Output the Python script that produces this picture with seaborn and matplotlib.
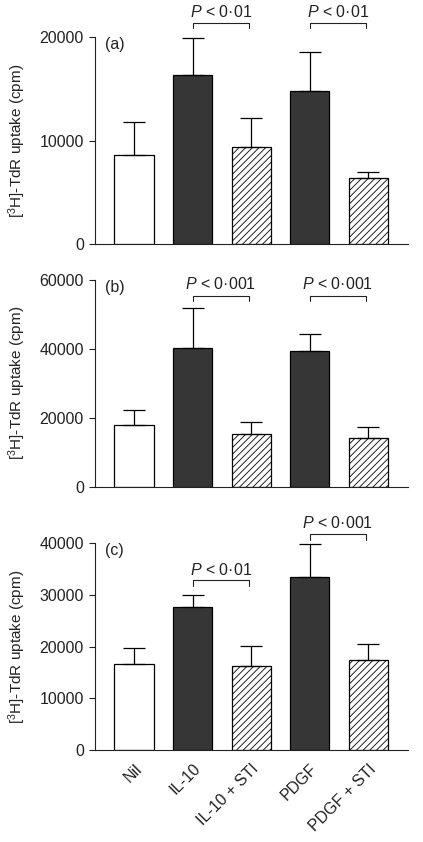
import matplotlib
matplotlib.use("Agg")
import matplotlib.pyplot as plt
import seaborn as sns
import numpy as np

sns.set_theme(style="ticks")
plt.rcParams["font.family"] = ["Liberation Sans", "DejaVu Sans"]
plt.rcParams["mathtext.fontset"] = "custom"
plt.rcParams["mathtext.rm"] = "Liberation Sans"
plt.rcParams["mathtext.it"] = "Liberation Sans:italic"
plt.rcParams["hatch.linewidth"] = 0.6

# ---- data ----
groups = ["Nil", "IL-10", "IL-10 + STI", "PDGF", "PDGF + STI"]

mean_a = [8600, 16300, 9370, 14780, 6350]
sem_a = [3220, 3650, 2780, 3800, 640]

mean_b = [17760, 40300, 15410, 39400, 14150]
sem_b = [4580, 11600, 3420, 4890, 3220]

mean_c = [16580, 27610, 16190, 33420, 17480]
sem_c = [3100, 2450, 4000, 6390, 3100]

ymax = [20000, 60000, 40000]
ystep = [10000, 20000, 10000]
panel_tags = ["(a)", "(b)", "(c)"]

# significance brackets: (x0, x1, bar y, tip y, text y, label)
sig_a = [(1, 1.97, 21380, 20840, 22440, "$P$ < 0·01"),
         (3, 3.96, 21380, 20840, 22440, "$P$ < 0·01")]
sig_b = [(1, 1.97, 55360, 53990, 58840, "$P$ < 0·001"),
         (3, 3.96, 55360, 53990, 58840, "$P$ < 0·001")]
sig_c = [(1, 1.97, 32840, 31740, 34830, "$P$ < 0·01"),
         (3, 3.96, 41810, 40720, 43880, "$P$ < 0·001")]

bar_colors = ["white", "#363636", "white", "#363636", "white"]
bar_hatch = ["", "", "/////", "", "/////"]

fig = plt.figure(figsize=(4.23, 8.42), dpi=100)
ax_rects = [
    [0.2246, 0.7102, 0.740, 0.2458],
    [0.2246, 0.4220, 0.740, 0.2455],
    [0.2246, 0.1093, 0.740, 0.2455],
]

panels = [(mean_a, sem_a, sig_a), (mean_b, sem_b, sig_b), (mean_c, sem_c, sig_c)]

for i, (means, sems, sigs) in enumerate(panels):
    ax = fig.add_axes(ax_rects[i])
    sns.barplot(x=groups, y=means, hue=groups, palette=bar_colors, legend=False,
                width=0.67, edgecolor="black", linewidth=0.9, ax=ax)
    for patch, h in zip(ax.patches, bar_hatch):
        patch.set_hatch(h)
    # only the upper half of the error bar is shown
    ax.errorbar(np.arange(len(groups)), means, yerr=[np.zeros(len(sems)), sems],
                fmt="none", ecolor="black", elinewidth=0.9, capsize=8, capthick=0.9)

    ax.set_xlim(-0.667, 4.68)
    ax.set_ylim(0, ymax[i])
    ax.set_yticks(np.arange(0, ymax[i] + 1, ystep[i]))
    ax.tick_params(axis="y", length=4, width=0.8, pad=4, labelsize=11.5, colors="#222222")
    ax.tick_params(axis="x", length=0)
    sns.despine(ax=ax)
    for s in ["left", "bottom"]:
        ax.spines[s].set_linewidth(0.8)
        ax.spines[s].set_color("#222222")

    ax.set_ylabel("[$\\mathregular{^3}$H]-TdR uptake (cpm)", fontsize=11, color="#222222")
    ax.yaxis.set_label_coords(-0.215, 0.5)
    ax.set_xlabel("")

    ax.text(0.032, 0.963, panel_tags[i], transform=ax.transAxes, ha="left", va="center",
            fontsize=11.5, color="#222222")

    for x0, x1, yb, yt, ytxt, lab in sigs:
        ax.plot([x0, x0, x1, x1], [yt, yb, yb, yt], color="#222222", lw=0.8, clip_on=False)
        ax.text((x0 + x1) / 2, ytxt, lab, ha="center", va="center", fontsize=11.5,
                color="#222222", clip_on=False)

    if i < 2:
        ax.set_xticklabels([])
    else:
        ax.set_xticks(range(len(groups)))
        ax.set_xticklabels(groups, rotation=45, ha="right", rotation_mode="anchor",
                           fontsize=11.5, color="#222222")
        ax.tick_params(axis="x", pad=8)

fig.savefig("out.png", dpi=100)
